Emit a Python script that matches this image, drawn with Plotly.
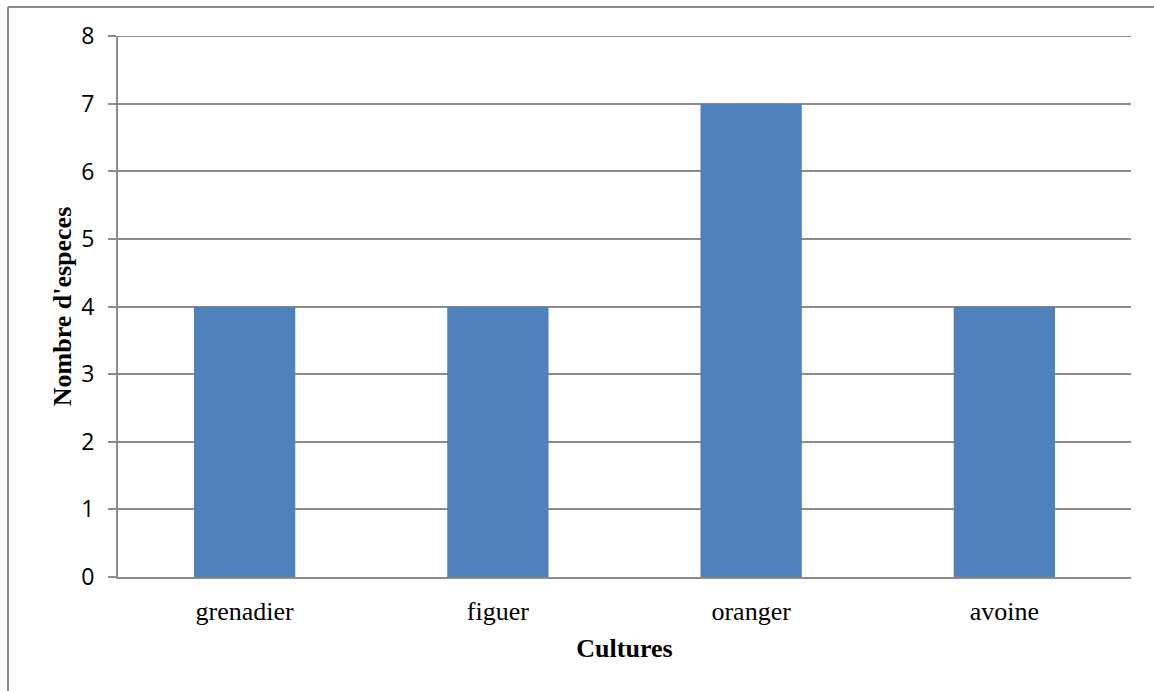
import plotly.graph_objects as go

categories = ["grenadier", "figuer", "oranger", "avoine"]
values = [4, 4, 7, 4]
y_ticks = [0, 1, 2, 3, 4, 5, 6, 7, 8]

W, H = 1154, 691
L, R, T, B = 118, 23, 36, 114
pw, ph = W - L - R, H - T - B

fig = go.Figure(go.Bar(x=categories, y=values, marker=dict(color="#4f81bd", line=dict(width=0)), width=0.4))

grid = "#8c8c8c"
fig.update_layout(
    width=W, height=H,
    margin=dict(l=L, r=R, t=T, b=B),
    paper_bgcolor="white", plot_bgcolor="white",
    showlegend=False,
    xaxis=dict(
        showgrid=False, showline=True, linecolor=grid, linewidth=2,
        ticks="", ticklabelstandoff=10,
        tickfont=dict(family="Liberation Serif", size=26, color="black"),
        title=dict(text="<b>Cultures</b>", font=dict(family="Liberation Serif", size=26, color="black"), standoff=14),
    ),
    yaxis=dict(
        range=[0, 8.004], tickvals=y_ticks, showgrid=True, gridcolor=grid, gridwidth=1.5,
        showline=True, linecolor=grid, linewidth=2, zeroline=False,
        ticks="outside", ticklen=8, tickcolor=grid, tickwidth=1.5, ticklabelstandoff=9,
        tickfont=dict(family="Open Sans", size=23, color="black"),
        title=dict(text="<b>Nombre d'especes</b>", font=dict(family="Liberation Serif", size=26, color="black"), standoff=2),
    ),
    shapes=[
        dict(type="line", xref="paper", yref="y", x0=0, x1=1, y0=y_ticks[-1], y1=y_ticks[-1],
             line=dict(color=grid, width=1.5), layer="below"),
        dict(type="line", xref="paper", yref="paper", x0=(8 - L) / pw, x1=(8 - L) / pw,
             y0=-(B + 5) / ph, y1=(H - B - 7) / ph, line=dict(color="#8c8c8c", width=2)),
        dict(type="line", xref="paper", yref="paper", x0=(8 - L) / pw, x1=(W + 5 - L) / pw,
             y0=(H - B - 7) / ph, y1=(H - B - 7) / ph, line=dict(color="#8c8c8c", width=2)),
    ],
)

fig.write_html("out.html")
